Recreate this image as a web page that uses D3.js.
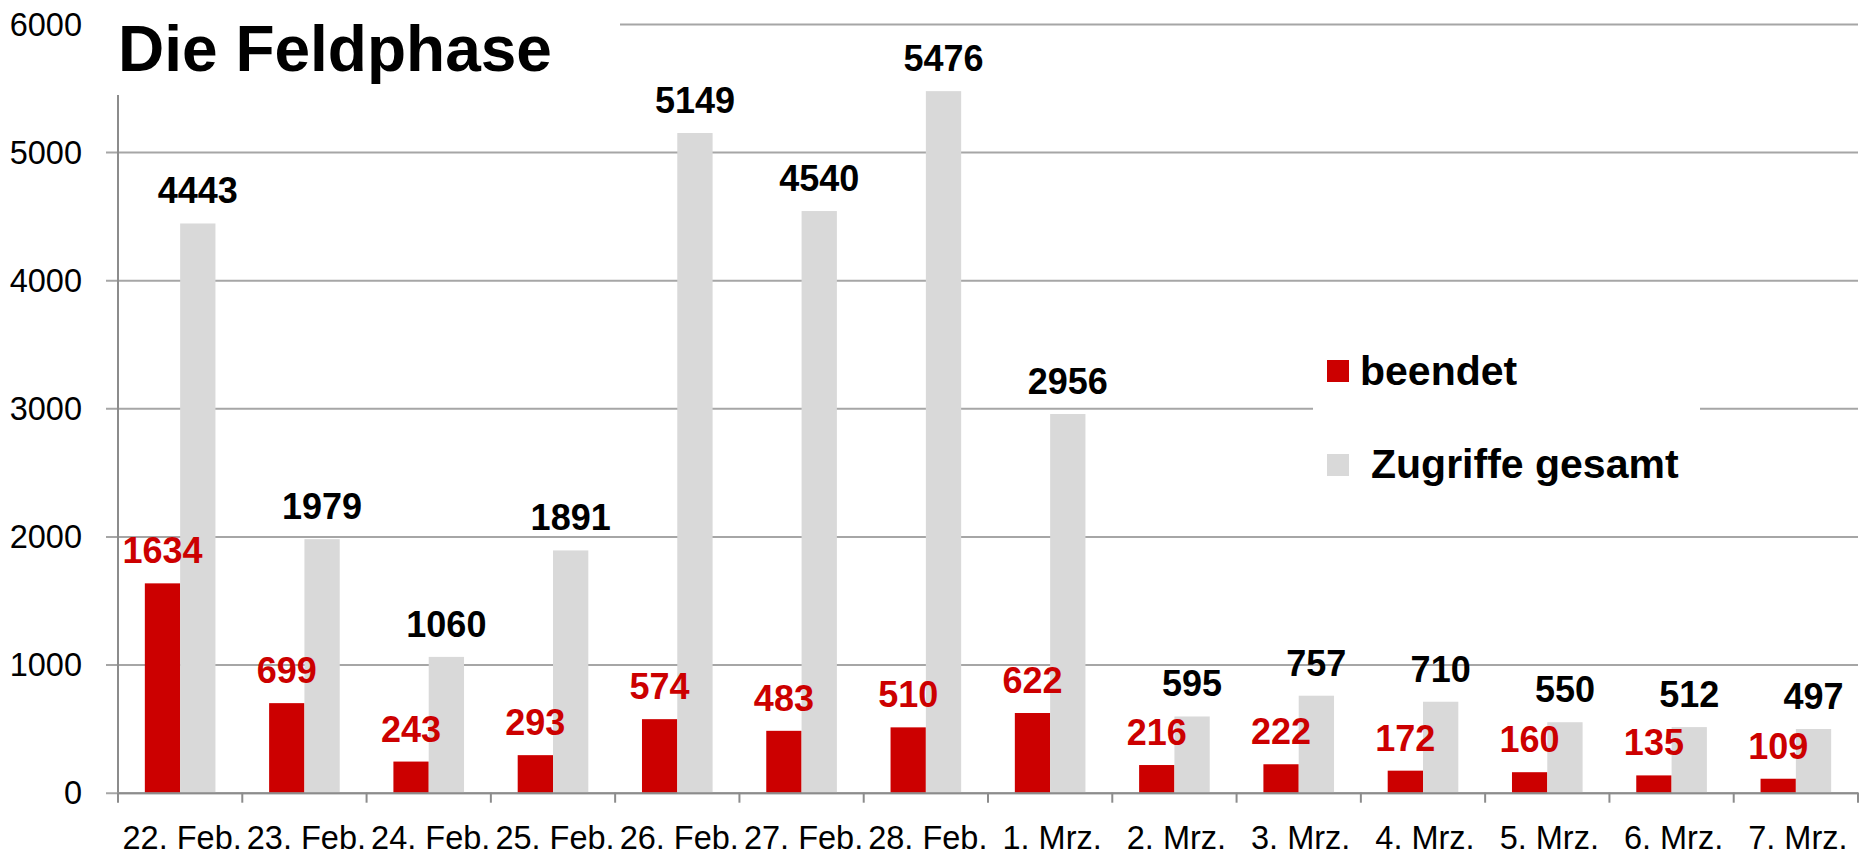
<!DOCTYPE html>
<html lang="de">
<head>
<meta charset="UTF-8">
<title>Die Feldphase</title>
<script src="https://cdnjs.cloudflare.com/ajax/libs/d3/7.8.5/d3.min.js"></script>
<style>
  html, body { margin: 0; padding: 0; background: #fff; }
  svg { display: block; font-family: "Liberation Sans", Arial, sans-serif; }
</style>
</head>
<body>
<script>
// data
var days = ["22. Feb.", "23. Feb.", "24. Feb.", "25. Feb.", "26. Feb.", "27. Feb.", "28. Feb.",
            "1. Mrz.", "2. Mrz.", "3. Mrz.", "4. Mrz.", "5. Mrz.", "6. Mrz.", "7. Mrz."];
var beendet = [1634, 699, 243, 293, 574, 483, 510, 622, 216, 222, 172, 160, 135, 109];
var gesamt  = [4443, 1979, 1060, 1891, 5149, 4540, 5476, 2956, 595, 757, 710, 550, 512, 497];
var yTicks = [0, 1000, 2000, 3000, 4000, 5000, 6000];
var seriesNames = ["beendet", "Zugriffe gesamt"];
var seriesColors = ["#cc0000", "#d9d9d9"];

var width = 1864, height = 852;
var plotLeft = 118, plotRight = 1858, plotTop = 24, plotBottom = 792.7;

var svg = d3.select("body").append("svg")
  .attr("width", width)
  .attr("height", height);

var x = d3.scaleBand().domain(days).range([plotLeft, plotRight]).paddingInner(0).paddingOuter(0);
var sub = d3.scaleBand().domain([0, 1]).range([0, x.bandwidth()]).paddingOuter(0.76).paddingInner(0);
var y = d3.scaleLinear().domain([0, 6000]).range([plotBottom, plotTop]);

// grid lines (with the little tick stubs left of the axis)
svg.append("g")
  .attr("transform", "translate(" + plotLeft + ",0)")
  .call(d3.axisLeft(y).tickValues(yTicks).tickSize(-(plotRight - plotLeft)).tickFormat(""))
  .call(function(g) {
    g.select(".domain").remove();
    g.selectAll(".tick line").attr("stroke", "#a6a6a6").attr("stroke-width", 2)
      .attr("x1", -12);
  });

// y tick labels
svg.append("g")
  .selectAll("text")
  .data(yTicks)
  .enter().append("text")
  .attr("x", 82)
  .attr("y", function(d) { return y(d); })
  .attr("dy", "0.36em")
  .attr("text-anchor", "end")
  .attr("font-size", 32.5)
  .attr("fill", "#000")
  .text(function(d) { return d; });

// y axis line
svg.append("line")
  .attr("x1", plotLeft).attr("x2", plotLeft)
  .attr("y1", y(6000)).attr("y2", plotBottom)
  .attr("stroke", "#8c8c8c").attr("stroke-width", 2);

// bars
var groups = svg.append("g").selectAll("g")
  .data(days)
  .enter().append("g")
  .attr("transform", function(d) { return "translate(" + x(d) + ",0)"; });

groups.append("rect")
  .attr("x", sub(0))
  .attr("width", sub.bandwidth())
  .attr("y", function(d, i) { return y(beendet[i]); })
  .attr("height", function(d, i) { return plotBottom - y(beendet[i]); })
  .attr("fill", seriesColors[0]);

groups.append("rect")
  .attr("x", sub(1))
  .attr("width", sub.bandwidth())
  .attr("y", function(d, i) { return y(gesamt[i]); })
  .attr("height", function(d, i) { return plotBottom - y(gesamt[i]); })
  .attr("fill", seriesColors[1]);

// value labels
groups.append("text")
  .attr("x", sub(0) + sub.bandwidth() / 2)
  .attr("y", function(d, i) { return y(beendet[i]) - 20; })
  .attr("text-anchor", "middle")
  .attr("font-size", 36)
  .attr("font-weight", "bold")
  .attr("fill", "#cc0000")
  .text(function(d, i) { return beendet[i]; });

groups.append("text")
  .attr("x", sub(1) + sub.bandwidth() / 2)
  .attr("y", function(d, i) { return y(gesamt[i]) - 20; })
  .attr("text-anchor", "middle")
  .attr("font-size", 36)
  .attr("font-weight", "bold")
  .attr("fill", "#000")
  .text(function(d, i) { return gesamt[i]; });

// x axis
svg.append("g")
  .attr("transform", "translate(0," + plotBottom + ")")
  .call(d3.axisBottom(x).tickSize(0).tickFormat(""))
  .call(function(g) {
    g.select(".domain").attr("stroke", "#8c8c8c").attr("stroke-width", 2);
  });

// tick marks at the category borders
svg.append("g").selectAll("line")
  .data(days.concat(["end"]))
  .enter().append("line")
  .attr("x1", function(d, i) { return plotLeft + i * x.step(); })
  .attr("x2", function(d, i) { return plotLeft + i * x.step(); })
  .attr("y1", plotBottom).attr("y2", plotBottom + 10)
  .attr("stroke", "#8c8c8c").attr("stroke-width", 2);

svg.append("g").selectAll("text")
  .data(days)
  .enter().append("text")
  .attr("x", function(d) { return x(d) + x.bandwidth() / 2 + 2; })
  .attr("y", 849)
  .attr("text-anchor", "middle")
  .attr("font-size", 32.5)
  .attr("fill", "#000")
  .text(function(d) { return d; });

// title with a white box that hides the top grid line
svg.append("rect")
  .attr("x", 100).attr("y", 0)
  .attr("width", 520).attr("height", 95)
  .attr("fill", "#fff");

svg.append("text")
  .attr("x", 118).attr("y", 71)
  .attr("font-size", 64)
  .attr("font-weight", "bold")
  .attr("fill", "#000")
  .text("Die Feldphase");

// legend
var legend = svg.append("g");
legend.append("rect")
  .attr("x", 1313).attr("y", 310)
  .attr("width", 387).attr("height", 195)
  .attr("fill", "#fff");

var legendY = [360, 454];
var legendTextX = [1360, 1371];
var legendBase = [385, 478];
seriesNames.forEach(function(name, i) {
  legend.append("rect")
    .attr("x", 1327).attr("y", legendY[i])
    .attr("width", 22).attr("height", 22)
    .attr("fill", seriesColors[i]);
  legend.append("text")
    .attr("x", legendTextX[i]).attr("y", legendBase[i])
    .attr("font-size", 41)
    .attr("font-weight", "bold")
    .attr("fill", "#000")
    .text(name);
});
</script>
</body>
</html>
